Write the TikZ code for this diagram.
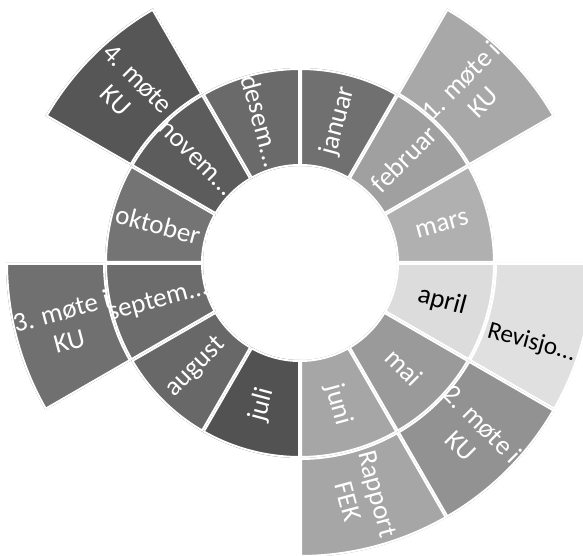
\documentclass[tikz,border=0pt]{standalone}
\usepackage{fontspec}
\setmainfont{Carlito}
\definecolor{cjan}{HTML}{707070}
\definecolor{cfeb}{HTML}{A0A0A0}
\definecolor{cmar}{HTML}{B0B0B0}
\definecolor{capr}{HTML}{DCDCDC}
\definecolor{cmai}{HTML}{9A9A9A}
\definecolor{cjun}{HTML}{A6A6A6}
\definecolor{cjul}{HTML}{525252}
\definecolor{caug}{HTML}{686868}
\definecolor{csep}{HTML}{6C6C6C}
\definecolor{cokt}{HTML}{747474}
\definecolor{cnov}{HTML}{5C5C5C}
\definecolor{cdes}{HTML}{6A6A6A}
\definecolor{cmoa}{HTML}{A8A8A8}
\definecolor{crev}{HTML}{E0E0E0}
\definecolor{cmob}{HTML}{929292}
\definecolor{crap}{HTML}{A6A6A6}
\definecolor{cmoc}{HTML}{707070}
\definecolor{cmod}{HTML}{565656}
\newcommand{\myring}[9]{% name, a1, a2, color, node opts, text, rin, rout, label position
  \begin{scope}
    \clip (#2:#7) arc[start angle=#2, end angle=#3, radius=#7] -- (#3:#8) arc[start angle=#3, end angle=#2, radius=#8] -- cycle;
    \fill[fill=#4, draw=white, line width=4pt] (#2:#7) arc[start angle=#2, end angle=#3, radius=#7] -- (#3:#8) arc[start angle=#3, end angle=#2, radius=#8] -- cycle;
    \node[lbl, #5] (#1) at (#9) {#6};
  \end{scope}}
\begin{document}
\begin{tikzpicture}[x=1pt,y=1pt,
  lbl/.style={text=white, font=\fontsize{27}{31}\selectfont, align=center, inner sep=0pt}]
\useasboundingbox (-300,-293) rectangle (283,263);
% inner ring: months
\myring{jan}{90}{60}{cjan}{rotate=75}{januar}{97pt}{195pt}{75:147pt}
\myring{feb}{60}{30}{cfeb}{rotate=45}{februar}{97pt}{195pt}{45:147pt}
\myring{mar}{30}{0}{cmar}{rotate=15}{mars}{97pt}{195pt}{15:147pt}
\myring{apr}{0}{-30}{capr}{rotate=-15, text=black}{april}{97pt}{195pt}{-15:147pt}
\myring{mai}{-30}{-60}{cmai}{rotate=-45}{mai}{97pt}{195pt}{-45:147pt}
\myring{jun}{-60}{-90}{cjun}{rotate=-75}{juni}{97pt}{195pt}{-75:147pt}
\myring{jul}{-90}{-120}{cjul}{rotate=75}{juli}{97pt}{195pt}{-105:147pt}
\myring{aug}{-120}{-150}{caug}{rotate=45}{august}{97pt}{195pt}{-135:147pt}
\myring{sep}{-150}{-180}{csep}{rotate=15}{septem...}{97pt}{195pt}{-165:147pt}
\myring{okt}{180}{150}{cokt}{rotate=-15}{oktober}{97pt}{195pt}{165:147pt}
\myring{nov}{150}{120}{cnov}{rotate=-45}{novem...}{97pt}{195pt}{135:147pt}
\myring{des}{120}{90}{cdes}{rotate=-75}{desem...}{97pt}{195pt}{105:147pt}
% outer ring
\myring{moa}{60}{30}{cmoa}{rotate=45}{1. møte i\\KU}{195pt}{294pt}{45:243pt}
\myring{rev}{0}{-30}{crev}{rotate=-15, text=black, font=\fontsize{25}{29}\selectfont}{Revisjo...}{195pt}{294pt}{-19:245pt}
\myring{mob}{-30}{-60}{cmob}{rotate=-45}{2. møte i\\KU}{195pt}{294pt}{-45:243pt}
\myring{rap}{-60}{-90}{crap}{rotate=-75}{Rapport\\FEK}{195pt}{294pt}{-75:243pt}
\myring{moc}{-150}{-180}{cmoc}{rotate=15}{3. møte i\\KU}{195pt}{294pt}{-165:243pt}
\myring{mod}{150}{120}{cmod}{rotate=-45}{4. møte\\KU}{195pt}{294pt}{135:245pt}
\end{tikzpicture}
\end{document}
